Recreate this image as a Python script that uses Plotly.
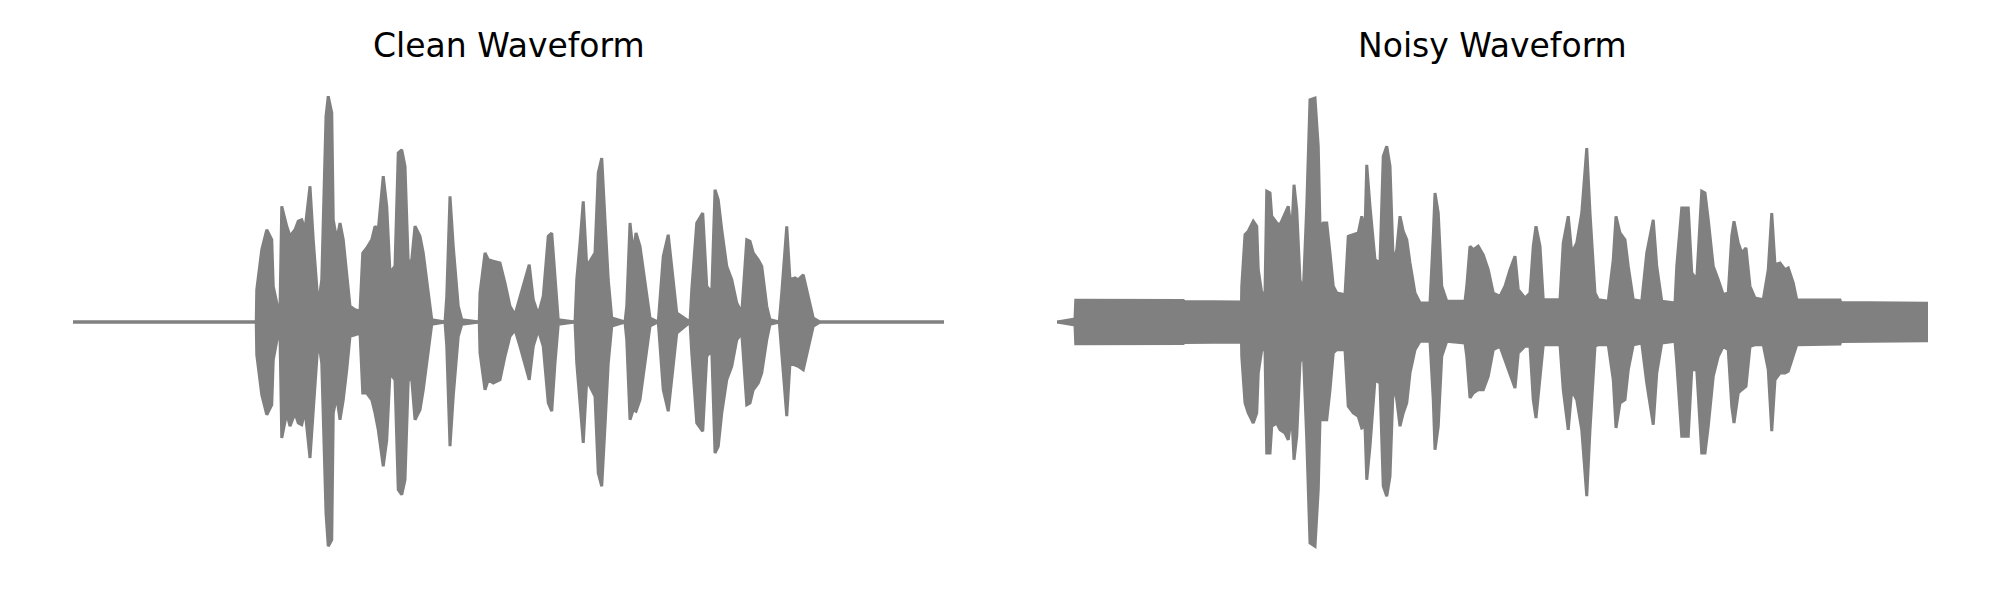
import plotly.graph_objects as go

# ---- Clean waveform envelope (time in ms, amplitude) ----
clean_t = [0, 733, 735, 755, 775, 795, 801, 821, 828, 835, 855, 868, 888, 901, 915, 928, 948, 961, 981, 995,
           1012, 1021, 1035, 1041, 1055, 1068, 1081, 1095, 1108, 1128, 1148, 1159, 1175, 1195, 1208, 1221, 1241,
           1255, 1268, 1288, 1301, 1315, 1328, 1341, 1355, 1368, 1388, 1401, 1415, 1435, 1488, 1495, 1508, 1521,
           1541, 1555, 1625, 1628, 1648, 1661, 1681, 1708, 1728, 1748, 1768, 1788, 1825, 1841, 1861, 1881, 1901,
           1915, 1928, 1941, 2008, 2015, 2028, 2041, 2055, 2068, 2088, 2101, 2115, 2128, 2141, 2155, 2208, 2215,
           2228, 2241, 2252, 2268, 2288, 2308, 2341, 2348, 2361, 2381, 2395, 2415, 2468, 2475, 2495, 2519, 2535,
           2555, 2568, 2581, 2595, 2615, 2635, 2655, 2675, 2695, 2708, 2721, 2741, 2755, 2775, 2788, 2825, 2835,
           2855, 2868, 2888, 2901, 2921, 2941, 2961, 2988, 3484]
clean_up = [0, 0, 0.129, 0.289, 0.369, 0.329, 0.143, 0.049, 0.049, 0.463, 0.383, 0.343, 0.369, 0.403, 0.409,
            0.369, 0.543, 0.329, 0.063, 0.169, 0.823, 0.903, 0.836, 0.409, 0.329, 0.396, 0.329, 0.196, 0.063,
            0.049, 0.043, 0.276, 0.296, 0.329, 0.383, 0.369, 0.583, 0.463, 0.196, 0.223, 0.676, 0.689, 0.623,
            0.236, 0.249, 0.383, 0.343, 0.276, 0.169, 0.009, 0, 0.103, 0.503, 0.303, 0.063, 0.009, 0, 0.116,
            0.276, 0.249, 0.243, 0.236, 0.156, 0.063, 0.029, 0.103, 0.229, 0.089, 0.029, 0.103, 0.343, 0.356,
            0.169, 0.009, 0, 0.169, 0.316, 0.483, 0.223, 0.243, 0.276, 0.596, 0.656, 0.409, 0.169, 0.016, 0,
            0.063, 0.396, 0.276, 0.356, 0.303, 0.169, 0.016, 0, 0.089, 0.263, 0.349, 0.223, 0.036, 0, 0.129,
            0.396, 0.436, 0.143, 0.116, 0.529, 0.489, 0.369, 0.223, 0.169, 0.076, 0.036, 0.329, 0.323, 0.276,
            0.249, 0.223, 0.063, 0.009, 0, 0.116, 0.383, 0.169, 0.176, 0.169, 0.189, 0.103, 0.016, 0, 0]
clean_lo = [0, 0, -0.131, -0.291, -0.371, -0.331, -0.151, -0.044, -0.051, -0.464, -0.364, -0.417, -0.364,
            -0.404, -0.411, -0.351, -0.544, -0.364, -0.064, -0.164, -0.765, -0.897, -0.871, -0.364, -0.297,
            -0.391, -0.311, -0.191, -0.057, -0.051, -0.044, -0.284, -0.284, -0.311, -0.364, -0.431, -0.577,
            -0.471, -0.204, -0.231, -0.671, -0.691, -0.631, -0.231, -0.231, -0.391, -0.351, -0.271, -0.164,
            -0.009, 0, -0.097, -0.497, -0.297, -0.057, -0.009, 0, -0.124, -0.271, -0.231, -0.244, -0.231,
            -0.137, -0.057, -0.031, -0.097, -0.231, -0.097, -0.031, -0.097, -0.324, -0.357, -0.164, -0.009, 0,
            -0.164, -0.324, -0.484, -0.231, -0.257, -0.297, -0.604, -0.657, -0.417, -0.164, -0.016, 0, -0.071,
            -0.391, -0.351, -0.357, -0.311, -0.164, -0.016, 0, -0.097, -0.271, -0.357, -0.231, -0.044, 0,
            -0.124, -0.404, -0.437, -0.137, -0.111, -0.524, -0.497, -0.364, -0.231, -0.177, -0.071, -0.044,
            -0.331, -0.324, -0.271, -0.244, -0.204, -0.071, -0.009, 0, -0.124, -0.377, -0.164, -0.171, -0.177,
            -0.191, -0.097, -0.017, 0, 0]

# ---- Noisy waveform envelope (time in ms, amplitude) ----
noisy_t = [0, 72, 75, 505, 510, 738, 739, 752, 765, 785, 799, 805, 819, 832, 839, 852, 859, 879, 892, 912,
           925, 939, 948, 959, 972, 985, 999, 1012, 1032, 1045, 1052, 1065, 1079, 1092, 1105, 1119, 1152,
           1165, 1185, 1205, 1219, 1232, 1239, 1252, 1272, 1292, 1305, 1319, 1332, 1345, 1359, 1372, 1385,
           1399, 1412, 1432, 1452, 1492, 1505, 1512, 1525, 1539, 1559, 1632, 1639, 1652, 1665, 1685, 1705,
           1725, 1745, 1772, 1792, 1812, 1832, 1845, 1872, 1892, 1905, 1916, 1932, 1945, 2012, 2025, 2045,
           2059, 2079, 2099, 2119, 2132, 2152, 2165, 2205, 2225, 2236, 2252, 2272, 2285, 2305, 2339, 2359,
           2385, 2399, 2419, 2472, 2479, 2499, 2525, 2539, 2559, 2579, 2592, 2605, 2625, 2645, 2665, 2685,
           2699, 2708, 2725, 2739, 2756, 2772, 2792, 2825, 2845, 2859, 2872, 2892, 2912, 2925, 2945, 2959,
           3132, 3135, 3484]
noisy_up = [0, 0.012, 0.087, 0.086, 0.082, 0.08, 0.143, 0.349, 0.363, 0.403, 0.383, 0.209, 0.116, 0.116,
            0.523, 0.516, 0.423, 0.396, 0.389, 0.436, 0.463, 0.356, 0.549, 0.449, 0.169, 0.116, 0.463, 0.889,
            0.896, 0.703, 0.383, 0.396, 0.396, 0.276, 0.143, 0.116, 0.109, 0.343, 0.349, 0.356, 0.423, 0.363,
            0.629, 0.463, 0.249, 0.236, 0.663, 0.703, 0.623, 0.236, 0.289, 0.423, 0.363, 0.329, 0.236, 0.116,
            0.076, 0.076, 0.343, 0.516, 0.436, 0.143, 0.083, 0.083, 0.143, 0.303, 0.289, 0.303, 0.269, 0.209,
            0.116, 0.103, 0.143, 0.209, 0.263, 0.129, 0.096, 0.116, 0.303, 0.383, 0.303, 0.089, 0.089, 0.316,
            0.423, 0.276, 0.316, 0.436, 0.696, 0.436, 0.116, 0.089, 0.083, 0.249, 0.423, 0.356, 0.329, 0.223,
            0.089, 0.083, 0.276, 0.409, 0.223, 0.083, 0.076, 0.223, 0.456, 0.456, 0.196, 0.169, 0.523, 0.516,
            0.409, 0.223, 0.169, 0.109, 0.116, 0.343, 0.403, 0.316, 0.276, 0.296, 0.143, 0.096, 0.089, 0.209,
            0.436, 0.229, 0.236, 0.209, 0.216, 0.156, 0.089, 0.088, 0.078, 0.075]
noisy_lo = [0, -0.012, -0.087, -0.086, -0.082, -0.08, -0.137, -0.324, -0.364, -0.404, -0.364, -0.204, -0.111,
            -0.111, -0.524, -0.524, -0.417, -0.404, -0.431, -0.444, -0.471, -0.364, -0.551, -0.457, -0.164,
            -0.111, -0.471, -0.884, -0.897, -0.671, -0.391, -0.391, -0.391, -0.271, -0.124, -0.111, -0.111,
            -0.337, -0.364, -0.377, -0.424, -0.417, -0.631, -0.497, -0.231, -0.244, -0.657, -0.697, -0.617,
            -0.244, -0.311, -0.417, -0.364, -0.324, -0.204, -0.111, -0.077, -0.077, -0.311, -0.511, -0.417,
            -0.137, -0.077, -0.084, -0.137, -0.304, -0.284, -0.271, -0.271, -0.217, -0.111, -0.097, -0.151,
            -0.204, -0.264, -0.124, -0.097, -0.097, -0.311, -0.384, -0.231, -0.091, -0.091, -0.271, -0.431,
            -0.271, -0.311, -0.431, -0.697, -0.431, -0.097, -0.091, -0.091, -0.231, -0.424, -0.324, -0.311,
            -0.191, -0.091, -0.084, -0.244, -0.411, -0.204, -0.084, -0.077, -0.164, -0.457, -0.457, -0.191,
            -0.191, -0.524, -0.524, -0.417, -0.217, -0.137, -0.097, -0.111, -0.337, -0.404, -0.284, -0.271,
            -0.257, -0.097, -0.091, -0.091, -0.191, -0.437, -0.231, -0.204, -0.204, -0.197, -0.137, -0.091,
            -0.088, -0.078, -0.075]

titles = ["Clean Waveform", "Noisy Waveform"]
GRAY = "#808080"

fig = go.Figure()


def add_wave(t, up, lo, xa, ya):
    fig.add_trace(go.Scatter(x=t, y=lo, mode="lines", line=dict(color=GRAY, width=3),
                             xaxis=xa, yaxis=ya, showlegend=False, hoverinfo="skip"))
    fig.add_trace(go.Scatter(x=t, y=up, mode="lines", line=dict(color=GRAY, width=3),
                             fill="tonexty", fillcolor=GRAY,
                             xaxis=xa, yaxis=ya, showlegend=False, hoverinfo="skip"))


add_wave(clean_t, clean_up, clean_lo, "x", "y")
add_wave(noisy_t, noisy_up, noisy_lo, "x2", "y2")

# page body adds an 8px offset; domains/margins compensate
dom1 = [0.0325, 0.468]
dom2 = [0.5245, 0.960]
ax_common = dict(visible=False, showgrid=False, zeroline=False, fixedrange=True)
fig.update_layout(
    width=2000, height=600,
    paper_bgcolor="white", plot_bgcolor="white",
    margin=dict(l=0, r=0, t=64, b=36),
    xaxis=dict(domain=dom1, range=[0, 3484], **ax_common),
    yaxis=dict(domain=[0, 1], range=[-1, 1], **ax_common),
    xaxis2=dict(domain=dom2, range=[0, 3484], **ax_common),
    yaxis2=dict(domain=[0, 1], range=[-1, 1], anchor="x2", **ax_common),
    showlegend=False,
)

centers = [(dom1[0] + dom1[1]) / 2, (dom2[0] + dom2[1]) / 2]
for cx, title in zip(centers, titles):
    fig.add_annotation(x=cx, y=1.052, xref="paper", yref="paper", text=title, showarrow=False,
                       xanchor="center", yanchor="middle",
                       font=dict(family="DejaVu Sans", size=33, color="black"))

fig.write_html("out.html")
